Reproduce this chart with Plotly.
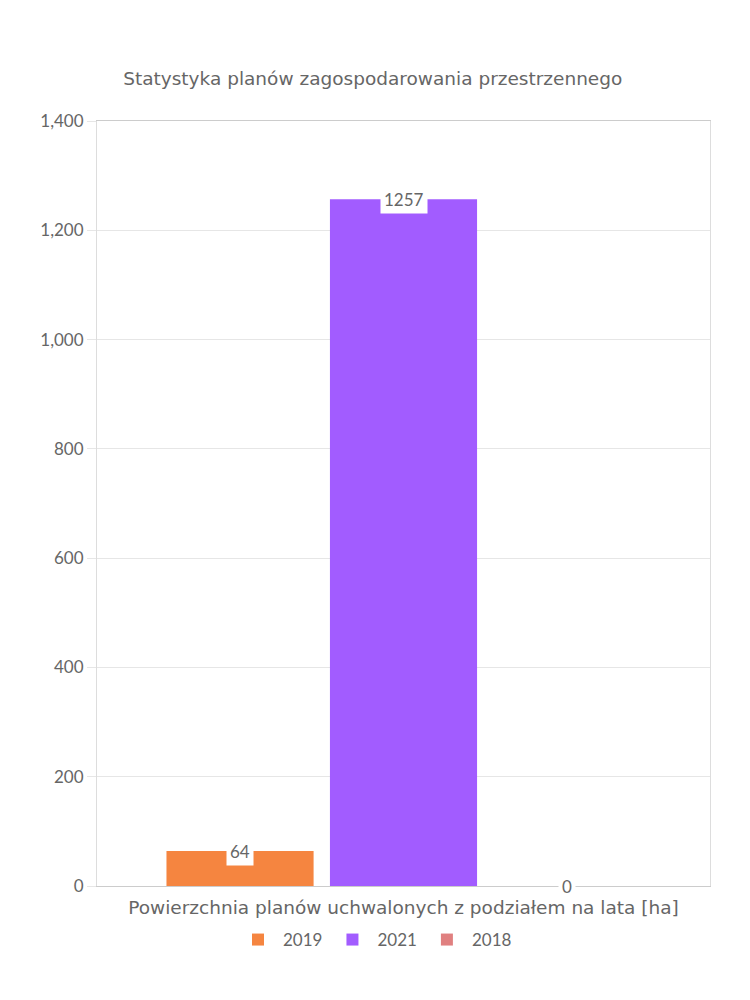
import plotly.graph_objects as go

categories = ["Powierzchnia planów uchwalonych z podziałem na lata [ha]"]
series_names = ["2019", "2021", "2018"]
series_values = [[64], [1257], [0]]
series_colors = ["rgb(245,133,64)", "rgb(162,92,255)", "rgb(224,128,128)"]
y_ticks = [0, 200, 400, 600, 800, 1000, 1200, 1400]

FONT = "Lato"
TEXTFONT = "DejaVu Sans"
GRAY = "#666666"
BARGAP = 0.2
GROUPGAP = 0.1

fig = go.Figure()
for name, vals, col in zip(series_names, series_values, series_colors):
    fig.add_trace(go.Bar(x=categories, y=vals, name=name, marker=dict(color=col, line=dict(width=0))))

n = len(series_names)
slot = (1 - BARGAP) / n
for i, vals in enumerate(series_values):
    for j, v in enumerate(vals):
        fig.add_annotation(x=j + (i - (n - 1) / 2) * slot, y=v, xref="x", yref="y",
                           text=str(v), showarrow=False, bgcolor="white",
                           font=dict(family=FONT, size=17, color=GRAY),
                           borderpad=3, yanchor="middle", xanchor="center")

fig.update_layout(
    width=750, height=1000,
    margin=dict(l=97, r=40, t=121, b=114),
    paper_bgcolor="white", plot_bgcolor="white",
    barmode="group", bargap=BARGAP, bargroupgap=GROUPGAP,
    font=dict(family=FONT, color=GRAY),
    title=dict(text="Statystyka planów zagospodarowania przestrzennego",
               x=0.497, xref="container", xanchor="center",
               y=0.921, yref="container", yanchor="middle",
               font=dict(family=TEXTFONT, size=18.5, color=GRAY)),
    legend=dict(orientation="h", x=0.5, xref="container", xanchor="center",
                y=0.06, yref="container", yanchor="middle",
                font=dict(family=FONT, size=17, color=GRAY), itemwidth=40),
    xaxis=dict(showgrid=False, showline=True, linecolor="#cccccc", automargin=False,
               tickfont=dict(family=TEXTFONT, size=18.5, color=GRAY), ticks="",
               ticklabelstandoff=5),
    yaxis=dict(range=[0, 1400], tickvals=y_ticks, tickformat=",", showgrid=True,
               gridcolor="#e6e6e6", showline=True, linecolor="#dddddd", mirror=True,
               ticks="outside", ticklen=9, tickcolor="#e6e6e6", automargin=False,
               tickfont=dict(family=FONT, size=17, color=GRAY), zeroline=False),
)
fig.update_xaxes(mirror=True)

fig.write_html("out.html")
